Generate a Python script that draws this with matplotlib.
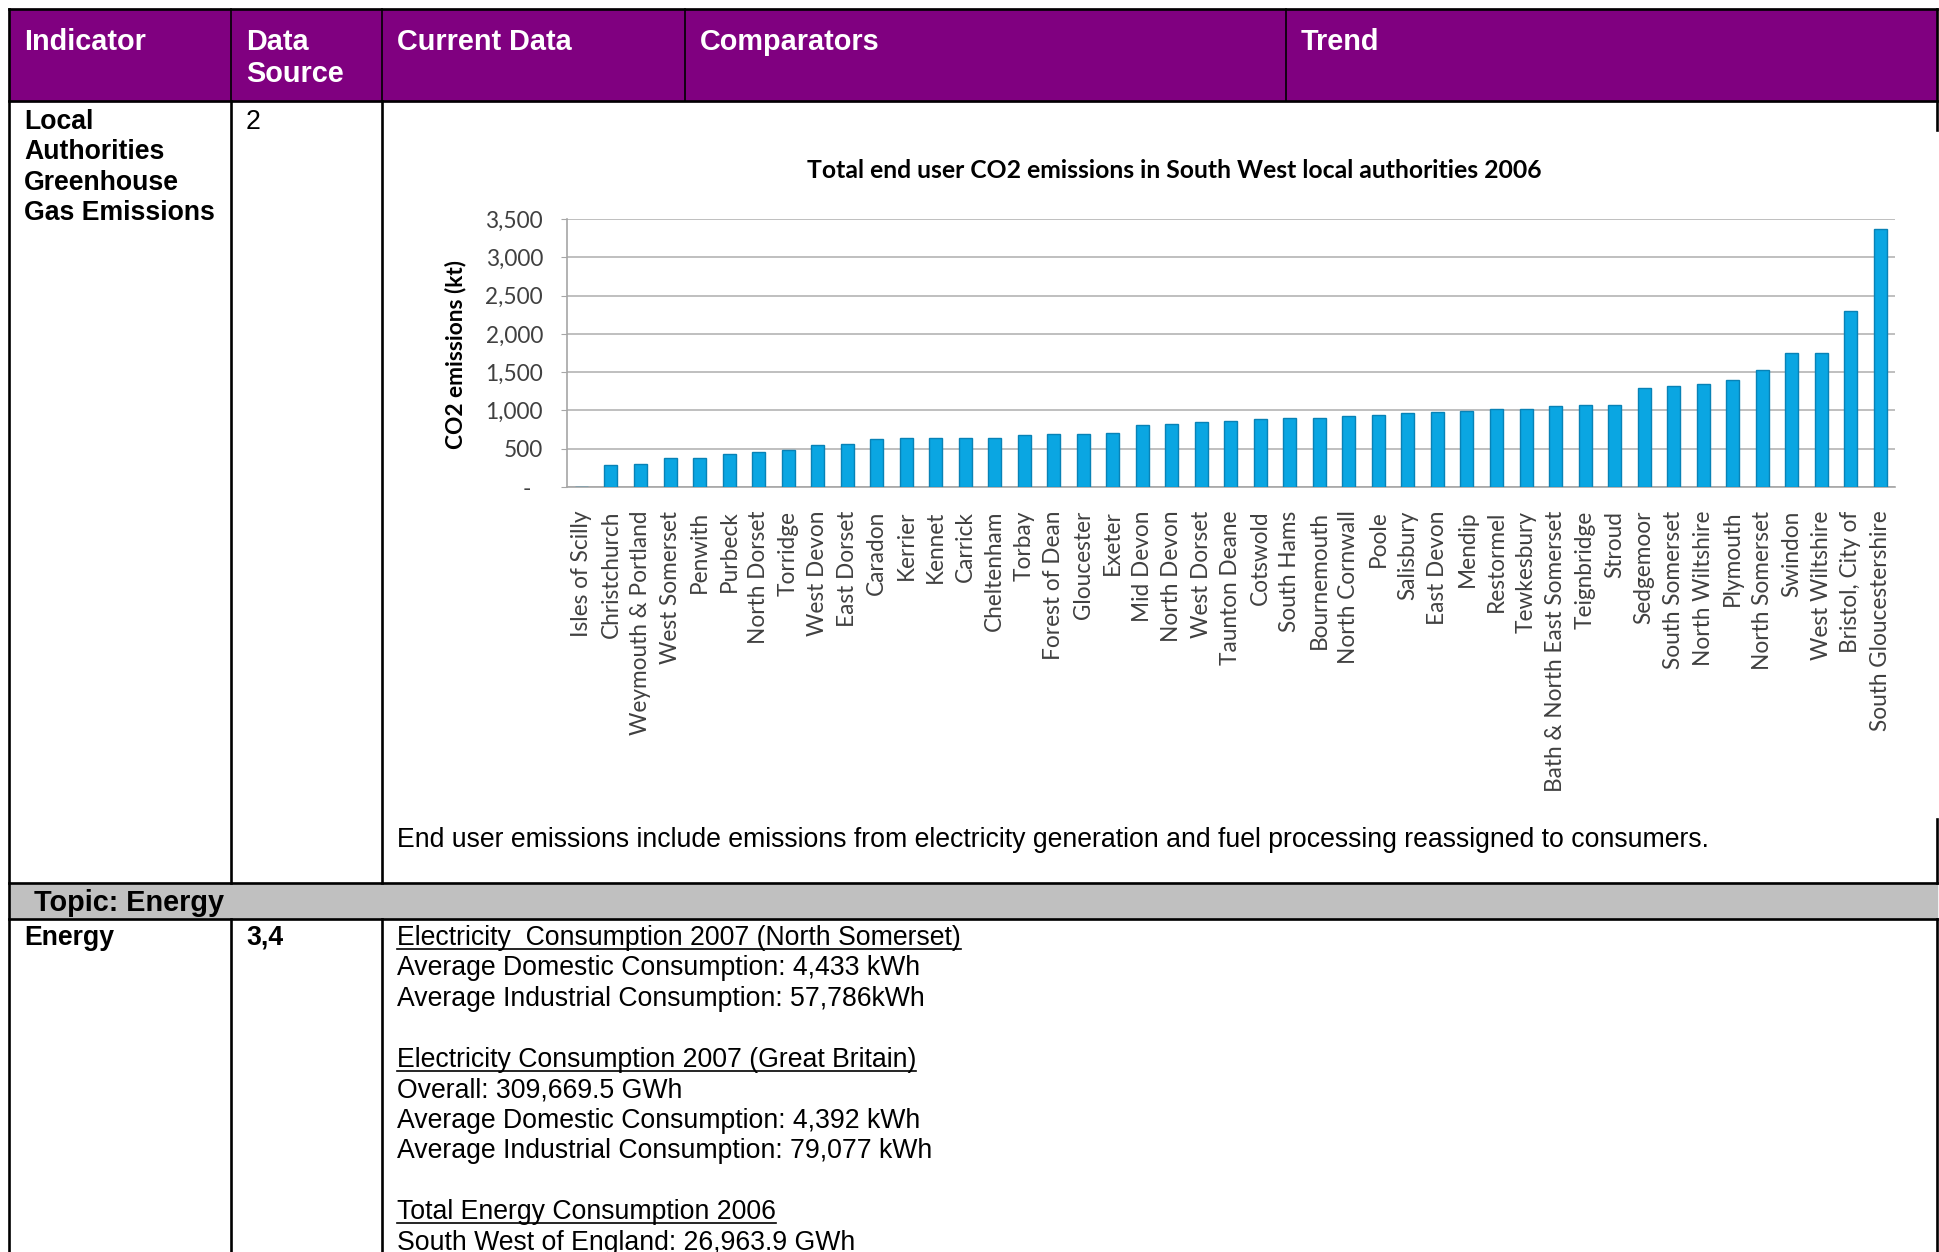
import matplotlib.pyplot as plt
from matplotlib.patches import Rectangle
from matplotlib.ticker import FuncFormatter

# Data (kt CO2, 2006)
authorities = ['Isles of Scilly', 'Christchurch', 'Weymouth & Portland', 'West Somerset',
               'Penwith', 'Purbeck', 'North Dorset', 'Torridge', 'West Devon', 'East Dorset',
               'Caradon', 'Kerrier', 'Kennet', 'Carrick', 'Cheltenham', 'Torbay',
               'Forest of Dean', 'Gloucester', 'Exeter', 'Mid Devon', 'North Devon',
               'West Dorset', 'Taunton Deane', 'Cotswold', 'South Hams', 'Bournemouth',
               'North Cornwall', 'Poole', 'Salisbury', 'East Devon', 'Mendip', 'Restormel',
               'Tewkesbury', 'Bath & North East Somerset', 'Teignbridge', 'Stroud',
               'Sedgemoor', 'South Somerset', 'North Wiltshire', 'Plymouth',
               'North Somerset', 'Swindon', 'West Wiltshire', 'Bristol, City of',
               'South Gloucestershire']
emissions_kt = [3, 285, 305, 385, 385, 430, 460, 480, 545, 567,
                628, 646, 646, 646, 646, 676, 690, 690, 707, 807,
                829, 846, 864, 890, 907, 907, 925, 945, 969, 986,
                995, 1025, 1025, 1056, 1073, 1073, 1287, 1318, 1344, 1392,
                1527, 1745, 1745, 2299, 3368]
y_ticks = [0, 500, 1000, 1500, 2000, 2500, 3000, 3500]

header_cols = ['Indicator', 'Data\nSource', 'Current Data', 'Comparators', 'Trend']
indicator_text = ['Local', 'Authorities', 'Greenhouse', 'Gas Emissions']
footnote = ('End user emissions include emissions from electricity generation '
            'and fuel processing reassigned to consumers.')
energy_lines = [
    ('Electricity  Consumption 2007 (North Somerset)', True),
    ('Average Domestic Consumption: 4,433 kWh', False),
    ('Average Industrial Consumption: 57,786kWh', False),
    ('', False),
    ('Electricity Consumption 2007 (Great Britain)', True),
    ('Overall: 309,669.5 GWh', False),
    ('Average Domestic Consumption: 4,392 kWh', False),
    ('Average Industrial Consumption: 79,077 kWh', False),
    ('', False),
    ('Total Energy Consumption 2006', True),
    ('South West of England: 26,963.9 GWh', False),
]

W, H = 1939, 1252
fig = plt.figure(figsize=(W / 100, H / 100), dpi=100)

# background axes in pixel units for the document table
bg = fig.add_axes([0, 0, 1, 1])
bg.set_xlim(0, W)
bg.set_ylim(H, 0)
bg.axis('off')

TXT = 'Liberation Sans'
BODY = 19.2
HEAD = 20.8
PURPLE = '#800080'
LW = 1.9

def txt(x, yc, s, size=BODY, bold=False, color='black'):
    # yc = visual centre of the capitals, in pixels
    base = yc + 0.36 * size / 0.72
    return bg.text(x, base, s, fontsize=size, family=TXT, color=color,
                   fontweight='bold' if bold else 'normal', va='baseline', ha='left')

# header band
bg.add_patch(Rectangle((9, 9), 1928, 92, color=PURPLE, zorder=0))
col_x = [9, 231, 382, 685, 1286, 1937]
for x in col_x[1:-1]:
    bg.plot([x, x], [9, 101], color='black', lw=1.2)
head_x = [24, 246, 397, 700, 1301]
for x, label in zip(head_x, header_cols):
    for i, part in enumerate(label.split('\n')):
        txt(x, 40 + i * 32, part, size=HEAD, bold=True, color='white')

# topic band
bg.add_patch(Rectangle((9, 883), 1928, 36, color='#C0C0C0', zorder=0))
txt(34, 901, 'Topic: Energy', size=HEAD, bold=True)

# grid lines
for y in [9, 101, 883, 919]:
    bg.plot([9, 1937], [y, y], color='black', lw=LW)
bg.plot([9, 9], [9, H], color='black', lw=LW)
bg.plot([1937, 1937], [9, 130], color='black', lw=LW)
bg.plot([1937, 1937], [819, 883], color='black', lw=LW)
bg.plot([1937, 1937], [919, H], color='black', lw=LW)
for x in [231, 382]:
    bg.plot([x, x], [101, 883], color='black', lw=LW)
    bg.plot([x, x], [919, H], color='black', lw=LW)

# row 1 text
for i, s in enumerate(indicator_text):
    txt(24, 119 + i * 30.5, s, bold=True)
txt(246, 119, '2')
txt(397, 837, footnote)

# energy row
txt(24, 935, 'Energy', bold=True)
txt(246, 935, '3,4', bold=True)
underlined = []
for i, (s, ul) in enumerate(energy_lines):
    if s:
        t = txt(397, 935 + i * 30.5, s)
        if ul:
            underlined.append(t)

# embedded bar chart
CH = 16.3
left, right, top, bottom = 566.7, 1895, 219, 487
ax = fig.add_axes([left / W, 1 - bottom / H, (right - left) / W, (bottom - top) / H])
x = range(len(authorities))
ax.bar(x, emissions_kt, width=0.44, color='#0AA6E2', edgecolor='#0882B6',
       linewidth=1.0, zorder=3)
ax.set_xlim(-0.5, len(authorities) - 0.5)
ax.set_ylim(0, 3500)
ax.set_yticks(y_ticks)
ax.yaxis.set_major_formatter(FuncFormatter(lambda v, p: '-  ' if v == 0 else f'{v:,.0f}'))
ax.grid(axis='y', color='#BFBFBF', lw=1.4, zorder=0)
ax.set_xticks(list(x))
ax.set_xticklabels(authorities, rotation=90, family='Lato', fontsize=CH, color='#404040')
ax.tick_params(axis='x', length=0, pad=17)
ax.tick_params(axis='y', length=4, color='#A6A6A6', pad=13, labelsize=CH,
               labelcolor='#404040')
for lab in ax.get_yticklabels():
    lab.set_family('Lato')
for side in ['top', 'right']:
    ax.spines[side].set_visible(False)
ax.spines['left'].set_color('#A6A6A6')
ax.spines['bottom'].set_color('#A6A6A6')
ax.spines['left'].set_linewidth(1.2)
ax.spines['bottom'].set_linewidth(1.2)

fig.text(1174 / W, 1 - 171 / H, 'Total end user CO2 emissions in South West local authorities 2006',
         family='Lato', fontweight='bold', fontsize=17.8, ha='center', va='center')
fig.text(455 / W, 1 - 355 / H, 'CO2 emissions (kt)', family='Lato', fontweight='bold',
         fontsize=16.4, rotation=90, ha='center', va='center')

# underline the sub-headings
fig.canvas.draw()
r = fig.canvas.get_renderer()
for t in underlined:
    bb = t.get_window_extent(r)
    base = t.get_position()[1]
    bg.plot([bb.x0, bb.x1], [base + 4, base + 4], color='black', lw=1.2)

fig.savefig('out.png', dpi=100)
